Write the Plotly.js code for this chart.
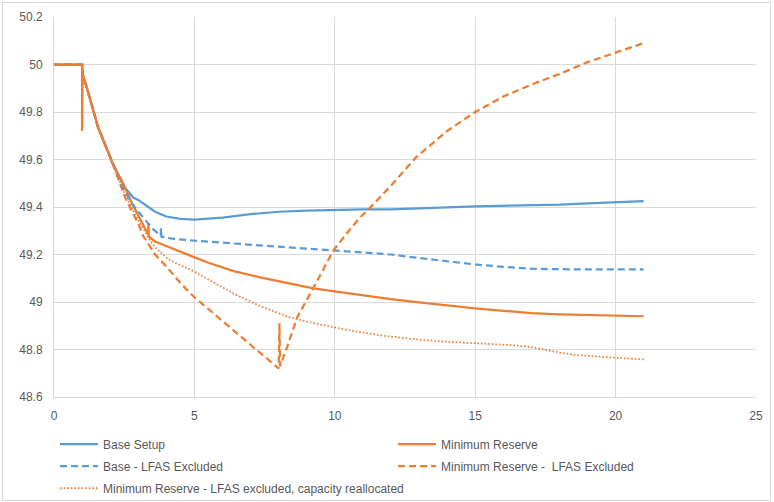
<!DOCTYPE html>
<html>
<head>
<meta charset="utf-8">
<script src="https://cdn.plot.ly/plotly-3.0.1.min.js"></script>
<style>
  html, body { margin: 0; padding: 0; background: #fff; }
  #wrap { position: relative; width: 774px; height: 502px; }
  #chart { width: 774px; height: 502px; }
  #frame { position: absolute; left: 2px; top: 2px; width: 767px; height: 497px;
           border: 1px solid #d9d9d9; pointer-events: none; }
</style>
</head>
<body>
<div id="wrap"><div id="chart"></div><div id="frame"></div></div>
<script>
// Series names
const names = [
  "Base Setup",
  "Minimum Reserve",
  "Base - LFAS Excluded",
  "Minimum Reserve - \u00a0LFAS Excluded",
  "Minimum Reserve - LFAS excluded, capacity reallocated"
];

// Base Setup
const baseX = [0, 1, 1.02, 1.2, 1.57, 2.1, 2.5, 2.82, 3.0, 3.42, 3.6, 4.0, 4.5, 5.0, 6.0, 7.0, 8.0, 9.0, 10.0, 11.0, 12.0, 13.0, 14.0, 15.0, 16.0, 17.0, 18.0, 19.0, 20.0, 21.0];
const baseY = [50, 50, 49.96, 49.89, 49.735, 49.58, 49.485, 49.44, 49.43, 49.395, 49.38, 49.36, 49.35, 49.347, 49.355, 49.37, 49.38, 49.385, 49.388, 49.39, 49.39, 49.393, 49.398, 49.403, 49.405, 49.407, 49.41, 49.415, 49.42, 49.425];

// Minimum Reserve
const minResX = [0, 1, 1, 1.02, 1.2, 1.57, 2.1, 2.46, 2.8, 3.1, 3.35, 3.36, 3.38, 3.6, 4.0, 4.5, 4.96, 5.5, 6.4, 7.3, 8.3, 9.24, 10, 11, 12, 13, 14, 15, 16, 17, 18, 19, 20, 21];
const minResY = [50, 50, 49.72, 49.96, 49.89, 49.735, 49.58, 49.5, 49.41, 49.34, 49.285, 49.33, 49.275, 49.255, 49.235, 49.21, 49.19, 49.165, 49.13, 49.105, 49.08, 49.057, 49.045, 49.028, 49.012, 48.998, 48.985, 48.973, 48.963, 48.953, 48.948, 48.945, 48.942, 48.94];

// Base - LFAS Excluded
const baseLfasX = [0, 1, 1.02, 1.2, 1.57, 2.1, 2.5, 2.8, 3.14, 3.5, 3.8, 3.81, 3.83, 4.2, 5, 6, 7, 8, 9, 10, 11, 12, 13, 14, 15, 16, 17, 18, 19, 20, 21];
const baseLfasY = [50, 50, 49.96, 49.89, 49.735, 49.58, 49.47, 49.41, 49.36, 49.31, 49.28, 49.31, 49.275, 49.267, 49.258, 49.25, 49.24, 49.232, 49.225, 49.217, 49.21, 49.2, 49.185, 49.17, 49.158, 49.148, 49.14, 49.138, 49.137, 49.137, 49.137];

// Minimum Reserve - LFAS Excluded
const minLfasX = [0, 1, 1.02, 1.2, 1.57, 2.1, 2.53, 3.0, 3.17, 3.6, 4.0, 4.5, 5.0, 5.5, 6.0, 6.4, 7.0, 7.35, 7.7, 8.0, 8.03, 8.05, 8.3, 8.66, 9.24, 9.95, 10.5, 10.9, 11.16, 12.0, 12.9, 14.0, 15.0, 16.0, 17.1, 18.0, 19.0, 20.04, 21.0];
const minLfasY = [50, 50, 49.96, 49.89, 49.735, 49.58, 49.44, 49.33, 49.28, 49.2, 49.15, 49.08, 49.02, 48.97, 48.92, 48.88, 48.82, 48.785, 48.75, 48.72, 48.91, 48.73, 48.81, 48.935, 49.06, 49.217, 49.30, 49.356, 49.385, 49.49, 49.61, 49.72, 49.80, 49.865, 49.92, 49.96, 50.01, 50.05, 50.09];

// Minimum Reserve - LFAS excluded, capacity reallocated
const reallocX = [0, 1, 1.02, 1.2, 1.57, 2.1, 2.5, 3.0, 3.42, 3.6, 4.07, 4.5, 4.96, 5.5, 6.4, 7.4, 8.4, 9.2, 9.84, 10.56, 11.6, 12.7, 13.77, 15.0, 16.0, 16.5, 17.0, 17.5, 18.0, 18.5, 19.1, 19.9, 21.0];
const reallocY = [50, 50, 49.96, 49.89, 49.735, 49.58, 49.46, 49.345, 49.26, 49.23, 49.18, 49.155, 49.13, 49.095, 49.035, 48.98, 48.935, 48.912, 48.897, 48.88, 48.86, 48.845, 48.834, 48.825, 48.82, 48.817, 48.81, 48.798, 48.787, 48.778, 48.772, 48.766, 48.758];

const blue = "#5B9BD5", orange = "#ED7D31";
const font = { family: "Liberation Sans, Arial, sans-serif", size: 12, color: "#595959" };

const traces = [
  { x: baseX, y: baseY, name: names[0], legend: "legend", legendgroup: "a",
    line: { color: blue, width: 2.25 } },
  { x: minResX, y: minResY, name: names[1], legend: "legend2", legendgroup: "b",
    line: { color: orange, width: 2.25 } },
  { x: baseLfasX, y: baseLfasY, name: names[2], legend: "legend", legendgroup: "c",
    line: { color: blue, width: 2.25, dash: "7px,4px" } },
  { x: minLfasX, y: minLfasY, name: names[3], legend: "legend2", legendgroup: "d",
    line: { color: orange, width: 2.25, dash: "7px,4px" } },
  { x: reallocX, y: reallocY, name: names[4], legend: "legend", legendgroup: "e",
    line: { color: orange, width: 1.75, dash: "1.6px,2px" } }
].map(t => Object.assign({ type: "scatter", mode: "lines", hoverinfo: "skip" }, t));

const legendBase = {
  orientation: "v", xref: "paper", yref: "container", xanchor: "left", yanchor: "top", y: 0.1444,
  bgcolor: "rgba(0,0,0,0)", borderwidth: 0, font: font,
  itemwidth: 38, tracegroupgap: 3, traceorder: "grouped", itemclick: false
};

const layout = {
  width: 774, height: 502,
  margin: { l: 54, r: 18, t: 17, b: 105, pad: 0 },
  paper_bgcolor: "#ffffff", plot_bgcolor: "#ffffff",
  font: font,
  showlegend: true,
  xaxis: {
    range: [0, 25], dtick: 5, tick0: 0, showgrid: true, gridcolor: "#d9d9d9", gridwidth: 1,
    zeroline: false, showline: true, linecolor: "#d9d9d9", linewidth: 1, mirror: false,
    ticks: "", ticklabelstandoff: 8, tickfont: font, fixedrange: true
  },
  yaxis: {
    range: [48.6, 50.2], dtick: 0.2, tick0: 48.6, showgrid: true, gridcolor: "#d9d9d9", gridwidth: 1,
    zeroline: false, showline: true, linecolor: "#d9d9d9", linewidth: 1, mirror: false,
    ticks: "", ticklabelstandoff: 8, tickfont: font, fixedrange: true
  },
  legend: Object.assign({}, legendBase, { x: 0.0014 }),
  legend2: Object.assign({}, legendBase, { x: 0.483 })
};

Plotly.newPlot("chart", traces, layout, { displayModeBar: false, staticPlot: true });
</script>
</body>
</html>
